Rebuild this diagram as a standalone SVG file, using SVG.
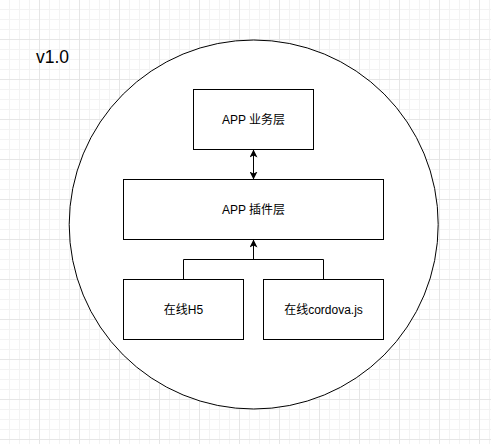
<svg xmlns="http://www.w3.org/2000/svg" width="491" height="444" viewBox="0 0 491 444">
  <defs>
    <pattern id="minor" x="0" y="0" width="10" height="10" patternUnits="userSpaceOnUse">
      <path d="M9.5 0V10M0 9.5H10" fill="none" stroke="#f3f3f3" stroke-width="1"/>
    </pattern>
    <pattern id="major" x="0" y="0" width="40" height="40" patternUnits="userSpaceOnUse">
      <path d="M39.5 0V40M0 39.5H40" fill="none" stroke="#e6e6e6" stroke-width="1"/>
    </pattern>
    <marker id="arrow" viewBox="0 0 10 10" refX="10" refY="5" markerWidth="8" markerHeight="8" markerUnits="userSpaceOnUse" orient="auto-start-reverse">
      <path d="M0,0 L10,5 L0,10 L2.5,5 z" fill="#000"/>
    </marker>
    <style>
      .box { fill: #ffffff; stroke: #000000; stroke-width: 1; }
      .lbl { font-family: "Liberation Sans", Arial, "Noto Sans CJK SC", sans-serif; font-size: 12px; fill: #000; text-anchor: middle; }
      .edge { fill: none; stroke: #000000; stroke-width: 1; }
    </style>
  </defs>
  <rect x="0" y="0" width="491" height="444" fill="#ffffff"/>
  <rect x="0" y="0" width="491" height="444" fill="url(#minor)"/>
  <rect x="0" y="0" width="491" height="444" fill="url(#major)"/>

  <text x="36" y="62.5" font-family="'Liberation Sans', Arial, sans-serif" font-size="17.5" fill="#000">v1.0</text>

  <g id="container">
    <circle cx="253.7" cy="224.5" r="184.5" class="box"/>
  </g>

  <g id="node-business">
    <rect x="193.5" y="89.5" width="120" height="60" class="box"/>
    <text x="253.5" y="123.8" class="lbl">APP 业务层</text>
  </g>

  <g id="node-plugin">
    <rect x="123.5" y="179.5" width="260" height="60" class="box"/>
    <text x="253.5" y="213.8" class="lbl">APP 插件层</text>
  </g>

  <g id="node-h5">
    <rect x="123.5" y="279.5" width="120" height="60" class="box"/>
    <text x="183.5" y="313.8" class="lbl">在线H5</text>
  </g>

  <g id="node-cordova">
    <rect x="263.5" y="279.5" width="120" height="60" class="box"/>
    <text x="323.5" y="313.8" class="lbl">在线cordova.js</text>
  </g>

  <g id="connectors">
    <path d="M253.5 149.5V179.5" class="edge" marker-start="url(#arrow)" marker-end="url(#arrow)"/>
    <path d="M183.5 279.5V259.5H323.5V279.5" class="edge"/>
    <path d="M253.5 259.5V239.5" class="edge" marker-end="url(#arrow)"/>
  </g>
</svg>
